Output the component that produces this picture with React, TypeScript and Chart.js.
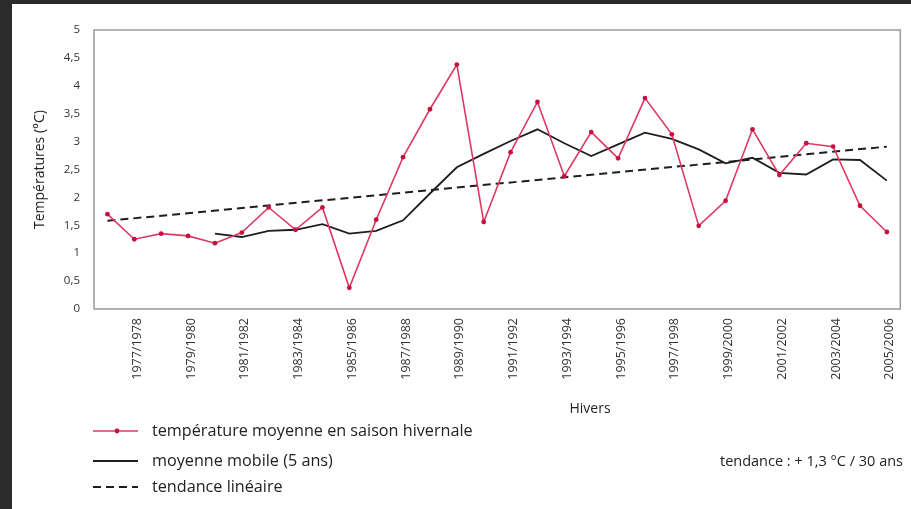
import React, { useEffect, useRef } from "react";
import { Chart, registerables } from "chart.js";

Chart.register(...registerables);

const winters = [
  "1976/1977", "1977/1978", "1978/1979", "1979/1980", "1980/1981",
  "1981/1982", "1982/1983", "1983/1984", "1984/1985", "1985/1986",
  "1986/1987", "1987/1988", "1988/1989", "1989/1990", "1990/1991",
  "1991/1992", "1992/1993", "1993/1994", "1994/1995", "1995/1996",
  "1996/1997", "1997/1998", "1998/1999", "1999/2000", "2000/2001",
  "2001/2002", "2002/2003", "2003/2004", "2004/2005", "2005/2006",
];

const meanTemp = [
  1.7, 1.25, 1.35, 1.31, 1.18, 1.37, 1.82, 1.42, 1.82, 0.38,
  1.6, 2.72, 3.58, 4.38, 1.56, 2.81, 3.71, 2.38, 3.17, 2.7,
  3.78, 3.13, 1.49, 1.94, 3.22, 2.4, 2.97, 2.91, 1.85, 1.38,
];

const movingAvg = [
  null, null, null, null, 1.35, 1.29, 1.4, 1.42, 1.52, 1.35,
  1.4, 1.59, 2.07, 2.54, 2.78, 3.01, 3.22, 2.97, 2.74, 2.95,
  3.16, 3.05, 2.86, 2.61, 2.71, 2.44, 2.41, 2.68, 2.67, 2.3,
];

const trendLine = [
  1.58, null, null, null, null, null, null, null, null, null,
  null, null, null, null, null, null, null, null, null, null,
  null, null, null, null, null, null, null, null, null, 2.91,
];

const yTicks = [0, 0.5, 1, 1.5, 2, 2.5, 3, 3.5, 4, 4.5, 5];

const seriesNames = [
  "température moyenne en saison hivernale",
  "moyenne mobile (5 ans)",
  "tendance linéaire",
];
const xTitle = "Hivers";
const yTitle = "Températures (°C)";
const trendNote = "tendance : + 1,3 °C / 30 ans";

const FONT = '"Open Sans", "Noto Sans", sans-serif';
const RED = "#dc3a62";
const RED_PT = "#c8103e";
const BLACK = "#1e1e1e";

const decorPlugin = {
  id: "decor",
  beforeDraw(chart: any) {
    const { ctx, width, height } = chart;
    ctx.save();
    ctx.fillStyle = "#2b2b2b";
    ctx.fillRect(0, 0, width, height);
    ctx.fillStyle = "#ffffff";
    ctx.fillRect(12, 4, width - 12, height - 4);
    ctx.restore();
  },
  afterDraw(chart: any) {
    const { ctx, chartArea } = chart;
    const ds = chart.data.datasets;
    ctx.save();
    // plot frame
    ctx.strokeStyle = "#9a9a9a";
    ctx.lineWidth = 1.5;
    ctx.strokeRect(chartArea.left, chartArea.top, chartArea.right - chartArea.left, chartArea.bottom - chartArea.top);

    // x title
    ctx.fillStyle = "#222";
    ctx.font = `14px ${FONT}`;
    ctx.textBaseline = "middle";
    ctx.textAlign = "center";
    ctx.fillText(xTitle, 590, 409);

    // trend note
    ctx.font = `14.5px ${FONT}`;
    ctx.textAlign = "right";
    ctx.fillText(trendNote, 903, 462);

    // legend
    const rows = [431, 461, 487];
    const x0 = 93;
    const x1 = 138;
    ctx.font = `16.2px ${FONT}`;
    ctx.textAlign = "left";
    rows.forEach((y, i) => {
      const d = ds[i];
      ctx.save();
      ctx.strokeStyle = d.borderColor;
      ctx.lineWidth = d.borderWidth;
      ctx.setLineDash(d.borderDash || []);
      ctx.beginPath();
      ctx.moveTo(x0, y);
      ctx.lineTo(x1, y);
      ctx.stroke();
      ctx.restore();
      if (i === 0) {
        ctx.fillStyle = d.pointBackgroundColor;
        ctx.beginPath();
        ctx.arc(117, y, d.pointRadius, 0, Math.PI * 2);
        ctx.fill();
      }
      ctx.fillStyle = "#222";
      ctx.fillText(seriesNames[i], 152, y);
    });
    ctx.restore();
  },
};

export default function App() {
  const ref = useRef<HTMLCanvasElement | null>(null);

  useEffect(() => {
    if (!ref.current) return;
    const chart = new Chart(ref.current, {
      type: "line",
      data: {
        labels: winters,
        datasets: [
          {
            label: seriesNames[0],
            data: meanTemp,
            borderColor: RED,
            borderWidth: 1.6,
            pointRadius: 2.4,
            pointBackgroundColor: RED_PT,
            pointBorderWidth: 0,
            tension: 0,
          },
          {
            label: seriesNames[1],
            data: movingAvg,
            borderColor: BLACK,
            borderWidth: 1.8,
            pointRadius: 0,
            tension: 0,
          },
          {
            label: seriesNames[2],
            data: trendLine,
            borderColor: BLACK,
            borderWidth: 2,
            borderDash: [8, 5],
            pointRadius: 0,
            spanGaps: true,
            tension: 0,
          },
        ] as any,
      },
      options: {
        animation: false,
        responsive: false,
        devicePixelRatio: 1,
        layout: { padding: { left: 0, top: 30, right: 8, bottom: 0 } },
        plugins: { legend: { display: false }, tooltip: { enabled: false } },
        scales: {
          x: {
            offset: true,
            grid: { display: false, drawTicks: false },
            border: { display: false },
            ticks: {
              autoSkip: false,
              maxRotation: 90,
              minRotation: 90,
              padding: 9,
              labelOffset: 3,
              color: "#333",
              font: { family: FONT, size: 12.5 },
              callback: (_v: any, i: number) => (i % 2 === 1 ? winters[i] : ""),
            },
            afterFit: (s: any) => {
              s.height = 200;
            },
          },
          y: {
            min: 0,
            max: 5,
            grid: { display: false, drawTicks: false },
            border: { display: false },
            afterBuildTicks: (s: any) => {
              s.ticks = yTicks.map((v) => ({ value: v }));
            },
            ticks: {
              padding: 14,
              color: "#333",
              font: { family: FONT, size: 11.5 },
              callback: (v: any) => String(v).replace(".", ","),
            },
            title: {
              display: true,
              text: yTitle,
              color: "#222",
              font: { family: FONT, size: 14 },
              padding: { top: 31.6, bottom: 0 },
            },
            afterFit: (s: any) => {
              s.width = 94;
            },
          },
        },
      },
      plugins: [decorPlugin],
    });
    return () => chart.destroy();
  }, []);

  return (
    <div style={{ position: "fixed", left: 0, top: 0, width: 911, height: 509, background: "#2b2b2b" }}>
      <canvas ref={ref} width={911} height={509} style={{ display: "block", width: 911, height: 509 }} />
    </div>
  );
}
